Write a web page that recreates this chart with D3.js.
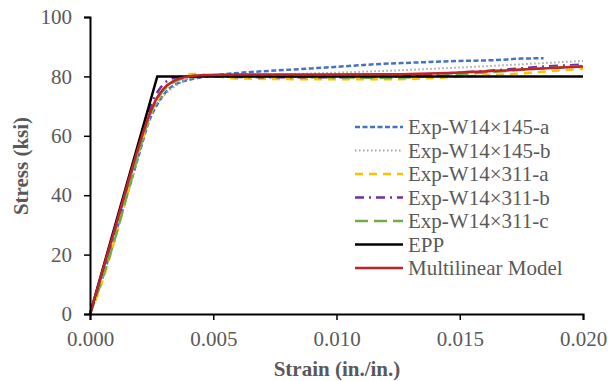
<!DOCTYPE html>
<html>
<head>
<meta charset="utf-8">
<script src="https://cdn.jsdelivr.net/npm/d3@7"></script>
<style>
  body { margin: 0; background: #fff; }
  text { font-family: "Liberation Serif", "Times New Roman", serif; }
</style>
</head>
<body>
<div id="chart"></div>
<script>
// 軸刻度
var xTicks = [0, 0.005, 0.010, 0.015, 0.020];
var yTicks = [0, 20, 40, 60, 80, 100];

// 各條曲線 (strain, stress)
var a145Strain = [0, 0.0005, 0.001, 0.0015, 0.002, 0.0024, 0.0028, 0.0032, 0.0036, 0.0042, 0.005, 0.0064, 0.008, 0.009, 0.0105, 0.0118, 0.013, 0.015, 0.0165, 0.0175, 0.0184];
var a145Stress = [0, 12, 26, 40, 54, 65, 71.5, 75.8, 77.8, 79.2, 80.3, 81.4, 82.2, 82.7, 83.5, 84.2, 84.6, 85.2, 85.5, 86.0, 86.1];

var b145Strain = [0, 0.001, 0.002, 0.0025, 0.003, 0.0035, 0.004, 0.005, 0.007, 0.009, 0.0118, 0.014, 0.016, 0.018, 0.020];
var b145Stress = [0, 28, 56, 68, 73.5, 77, 79.2, 80.3, 80.6, 81.0, 81.8, 82.6, 83.4, 84.3, 85.2];

var a311Strain = [0, 0.0005, 0.001, 0.0015, 0.002, 0.0025, 0.003, 0.0035, 0.0042, 0.005, 0.006, 0.008, 0.010, 0.0122, 0.014, 0.0158, 0.0176, 0.019, 0.020];
var a311Stress = [0, 11, 25, 40, 55, 68, 75.5, 79, 80.8, 80.2, 79.3, 79.1, 79.0, 79.0, 79.5, 80.3, 81.0, 82.0, 82.5];

var b311Strain = [0, 0.001, 0.002, 0.0025, 0.0028, 0.0031, 0.0036, 0.0045, 0.006, 0.009, 0.012, 0.014, 0.016, 0.0188, 0.020];
var b311Stress = [0, 28, 57, 71, 75.5, 78.3, 79.8, 80.0, 79.8, 79.7, 79.9, 80.8, 81.8, 83.5, 84.0];

var c311Strain = [0, 0.0005, 0.001, 0.0015, 0.002, 0.0025, 0.003, 0.0035, 0.004, 0.005, 0.007, 0.010, 0.012, 0.014, 0.016, 0.018, 0.020];
var c311Stress = [0, 12, 25, 40, 55, 68.5, 75.5, 78.5, 79.6, 80.1, 80.0, 79.7, 79.5, 80.2, 81.3, 82.5, 83.5];

var eppStrain = [0, 0.00273, 0.020];
var eppStress = [0, 80, 80];

var multiStrain = [0, 0.001, 0.002, 0.0024, 0.0027, 0.003, 0.0034, 0.0039, 0.0045, 0.006, 0.012, 0.015, 0.0175, 0.020];
var multiStress = [0, 28.5, 57, 67, 72.5, 76, 78.5, 79.8, 80.4, 80.6, 80.7, 81.3, 82.3, 83.3];

// 圖例名稱
var seriesNames = ['Exp-W14×145-a', 'Exp-W14×145-b', 'Exp-W14×311-a', 'Exp-W14×311-b', 'Exp-W14×311-c', 'EPP', 'Multilinear Model'];

function zip(xs, ys) {
    return xs.map(function(x, i){ return [x, ys[i]]; });
}

var series = [
    {name: seriesNames[0], pts: zip(a145Strain, a145Stress), color: '#4472C4', dash: '5,2.5', w: 2.5},
    {name: seriesNames[1], pts: zip(b145Strain, b145Stress), color: '#A5A5A5', dash: '1.5,2.5', w: 2},
    {name: seriesNames[2], pts: zip(a311Strain, a311Stress), color: '#FFC000', dash: '8,6', w: 2.5},
    {name: seriesNames[3], pts: zip(b311Strain, b311Stress), color: '#7030A0', dash: '9,5,2,5', w: 2.5},
    {name: seriesNames[4], pts: zip(c311Strain, c311Stress), color: '#70AD47', dash: '13,6', w: 2.5},
    {name: seriesNames[5], pts: zip(eppStrain, eppStress), color: '#000000', dash: null, w: 2.5, linear: true},
    {name: seriesNames[6], pts: zip(multiStrain, multiStress), color: '#C0232A', dash: null, w: 2.5}
];

var width = 608, height = 381;
var plotLeft = 90, plotRight = 583, plotTop = 17, plotBottom = 314;

var svg = d3.select('#chart')
            .append('svg')
            .attr('width', width)
            .attr('height', height);

var x = d3.scaleLinear().domain([0, 0.020]).range([plotLeft, plotRight]);
var y = d3.scaleLinear().domain([0, 100]).range([plotBottom, plotTop]);

// 曲線
series.forEach(function(s){
    var line = d3.line()
                 .x(function(d){ return x(d[0]); })
                 .y(function(d){ return y(d[1]); })
                 .curve(s.linear ? d3.curveLinear : d3.curveMonotoneX);
    svg.append('path')
       .attr('d', line(s.pts))
       .attr('fill', 'none')
       .attr('stroke', s.color)
       .attr('stroke-width', s.w)
       .attr('stroke-dasharray', s.dash);
});

// 座標軸
var xAxis = svg.append('g')
               .attr('transform', 'translate(0,' + plotBottom + ')')
               .call(d3.axisBottom(x).tickValues(xTicks).tickFormat(d3.format('.3f')).tickSize(6).tickPadding(11));
var yAxis = svg.append('g')
               .attr('transform', 'translate(' + plotLeft + ',0)')
               .call(d3.axisLeft(y).tickValues(yTicks).tickSize(6).tickPadding(12));

[xAxis, yAxis].forEach(function(ax){
    ax.select('.domain').attr('stroke', '#000').attr('stroke-width', 2);
    ax.selectAll('.tick line').attr('stroke', '#000').attr('stroke-width', 1.5);
    ax.selectAll('.tick text')
      .attr('fill', '#595959')
      .style('font-family', '"Liberation Serif", serif')
      .style('font-size', '21px');
});

// 軸標題
svg.append('text')
   .attr('transform', 'translate(28,166) rotate(-90)')
   .attr('text-anchor', 'middle')
   .attr('fill', '#595959')
   .style('font-size', '21px')
   .style('font-weight', 'bold')
   .text('Stress (ksi)');

svg.append('text')
   .attr('x', 337)
   .attr('y', 376)
   .attr('text-anchor', 'middle')
   .attr('fill', '#595959')
   .style('font-size', '21px')
   .style('font-weight', 'bold')
   .text('Strain (in./in.)');

// 圖例
var legend = svg.append('g');
series.forEach(function(s, i){
    var cy = 127 + i * 23.5;
    legend.append('line')
          .attr('x1', 355).attr('x2', 403)
          .attr('y1', cy).attr('y2', cy)
          .attr('stroke', s.color)
          .attr('stroke-width', s.w)
          .attr('stroke-dasharray', s.dash);
    legend.append('text')
          .attr('x', 408)
          .attr('y', cy + 7)
          .attr('fill', '#595959')
          .style('font-size', '21px')
          .text(s.name);
});
</script>
</body>
</html>
